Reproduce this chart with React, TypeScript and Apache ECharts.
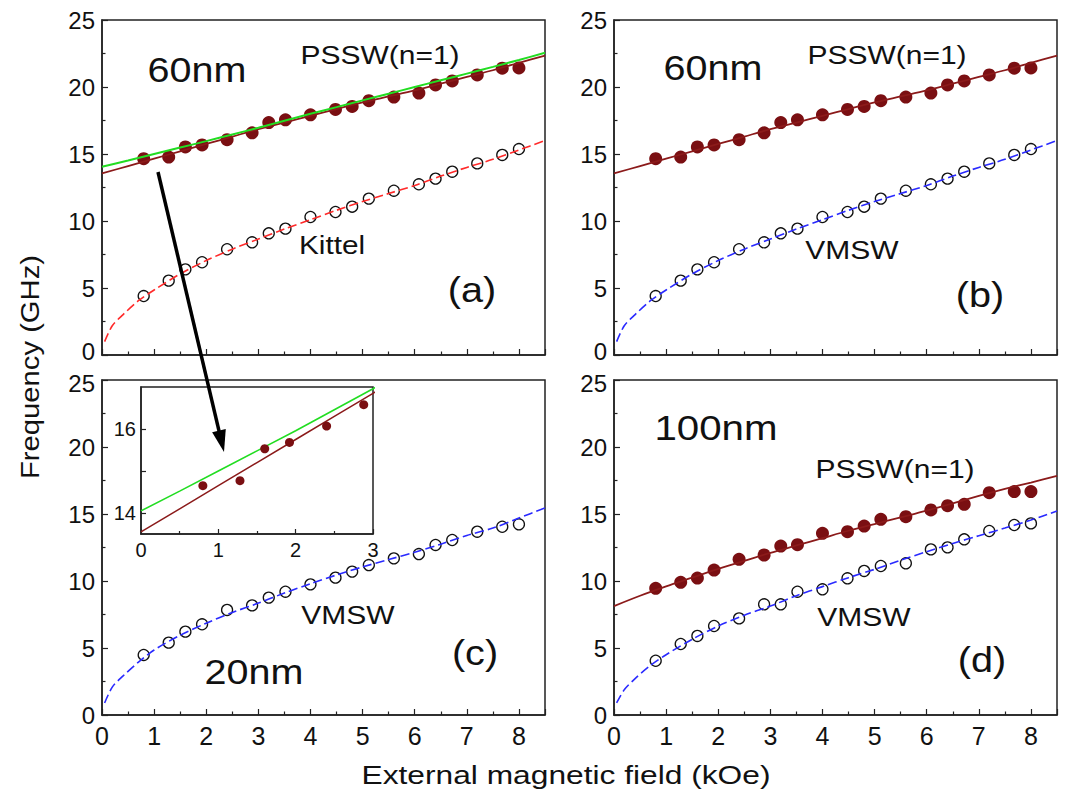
import React, { useEffect, useRef } from "react";
import * as echarts from "echarts";

// ---------- data ----------
const fieldX = [0.8, 1.28, 1.6, 1.92, 2.4, 2.88, 3.2, 3.52, 4.0, 4.48, 4.8, 5.12, 5.6, 6.08, 6.4, 6.72, 7.2, 7.68, 8.0];

const pssw60 = [14.65, 14.77, 15.53, 15.68, 16.07, 16.58, 17.35, 17.55, 17.92, 18.33, 18.55, 18.98, 19.25, 19.55, 20.15, 20.45, 20.9, 21.4, 21.42];
const kittel60 = [4.4, 5.55, 6.39, 6.92, 7.89, 8.41, 9.08, 9.43, 10.3, 10.67, 11.07, 11.67, 12.26, 12.74, 13.16, 13.68, 14.3, 14.93, 15.37];
const vmsw20 = [4.48, 5.4, 6.22, 6.77, 7.84, 8.18, 8.76, 9.2, 9.75, 10.25, 10.7, 11.19, 11.69, 12.01, 12.69, 13.06, 13.68, 14.05, 14.23];
const pssw100 = [9.45, 9.9, 10.22, 10.82, 11.62, 11.94, 12.61, 12.71, 13.56, 13.68, 14.1, 14.6, 14.8, 15.3, 15.62, 15.72, 16.59, 16.67, 16.67];
const vmsw100 = [4.05, 5.3, 5.9, 6.64, 7.21, 8.26, 8.26, 9.2, 9.38, 10.2, 10.75, 11.12, 11.32, 12.36, 12.51, 13.11, 13.73, 14.18, 14.3];

// fitted curves
const linX = [0, 0.5, 1, 1.5, 2, 2.5, 3, 3.5, 4, 4.5, 5, 5.5, 6, 6.5, 7, 7.5, 8, 8.5];
const brownFit60 = [13.55, 14.1, 14.65, 15.2, 15.75, 16.3, 16.85, 17.35, 17.85, 18.35, 18.85, 19.3, 19.75, 20.25, 20.75, 21.25, 21.8, 22.35];
const greenFit60 = [14.05, 14.52, 15.0, 15.48, 15.96, 16.46, 16.96, 17.48, 18.0, 18.5, 19.0, 19.5, 20.0, 20.5, 21.0, 21.5, 22.02, 22.55];
const brownFit100 = [8.13, 8.9, 9.6, 10.25, 10.9, 11.5, 12.1, 12.65, 13.2, 13.75, 14.25, 14.75, 15.25, 15.8, 16.35, 16.87, 17.35, 17.84];

const curveX = [0.05, 0.2, 0.4, 0.7, 1, 1.5, 2, 2.5, 3, 3.5, 4, 4.5, 5, 5.5, 6, 6.5, 7, 7.5, 8, 8.5];
const kittelFit60 = [1.0, 2.2, 3.0, 4.05, 4.85, 6.05, 7.05, 7.9, 8.65, 9.4, 10.1, 10.8, 11.45, 12.05, 12.65, 13.35, 14.0, 14.6, 15.3, 16.0];
const vmswFit20 = [0.9, 2.1, 2.9, 3.95, 4.85, 5.95, 6.85, 7.65, 8.35, 9.1, 9.8, 10.45, 11.05, 11.6, 12.15, 12.75, 13.4, 13.95, 14.7, 15.45];
const vmswFit100 = [0.9, 1.9, 2.7, 3.7, 4.5, 5.65, 6.64, 7.45, 8.13, 8.9, 9.58, 10.25, 10.87, 11.55, 12.19, 12.8, 13.38, 13.95, 14.55, 15.22];

const xTicks = [0, 1, 2, 3, 4, 5, 6, 7, 8];
const insetYLabels = [14, 16];
const insetYTicks = [14, 15, 16];

const FONT = "'Liberation Sans', Arial, sans-serif";
const BROWN = "#7a0f12";
const BROWN_LINE = "#8b1a1a";
const GREEN = "#22dd22";
const RED = "#ff2a2a";
const BLUE = "#2a2aff";
const AXIS = "#222";

const zip = (xs: number[], ys: number[]) => xs.map((x, i) => [x, ys[i]]);

function mainX(showLabels: boolean, grid: number) {
  return {
    type: "value",
    gridIndex: grid,
    min: 0,
    max: 8.5,
    interval: 1,
    axisLine: { show: true, onZero: false, lineStyle: { color: AXIS, width: 1.5 } },
    axisTick: { show: true, inside: true, length: 6, lineStyle: { color: AXIS, width: 1.2 } },
    minorTick: { show: true, splitNumber: 2, length: 3.5, lineStyle: { color: AXIS, width: 1.2 } },
    splitLine: { show: false },
    axisLabel: {
      show: showLabels,
      fontSize: 25,
      color: "#111",
      fontFamily: FONT,
      margin: 8,
      formatter: (v: number) => (xTicks.indexOf(v) >= 0 ? String(v) : ""),
    },
  };
}

function mainY(grid: number, top: boolean) {
  return {
    type: "value",
    gridIndex: grid,
    min: 0,
    max: 25,
    interval: 5,
    axisLine: { show: true, onZero: false, lineStyle: { color: AXIS, width: 1.5 } },
    axisTick: { show: true, inside: true, length: 6, lineStyle: { color: AXIS, width: 1.2 } },
    minorTick: { show: true, splitNumber: 2, length: 3.5, lineStyle: { color: AXIS, width: 1.2 } },
    splitLine: { show: false },
    axisLabel: {
      show: true,
      fontSize: 24,
      color: "#111",
      fontFamily: FONT,
      margin: 7,
      showMinLabel: true,
      showMaxLabel: true,
      formatter: (v: number) => {
        if (top && v === 0) return "{lo|0}";
        if (!top && v === 25) return "{hi|25}";
        return "{n|" + v + "}";
      },
      rich: {
        n: { fontSize: 24, fontFamily: FONT, color: "#111" },
        lo: { fontSize: 24, fontFamily: FONT, color: "#111", padding: [0, 0, 8, 0] },
        hi: { fontSize: 24, fontFamily: FONT, color: "#111", padding: [6, 0, 0, 0] },
      },
    },
  };
}

function filled(grid: number, ys: number[], size = 13) {
  return {
    type: "scatter",
    xAxisIndex: grid,
    yAxisIndex: grid,
    data: zip(fieldX, ys),
    symbol: "circle",
    symbolSize: size,
    itemStyle: { color: BROWN, opacity: 1 },
    z: 2,
    clip: true,
  };
}

function open(grid: number, ys: number[]) {
  return {
    type: "scatter",
    xAxisIndex: grid,
    yAxisIndex: grid,
    data: zip(fieldX, ys),
    symbol: "circle",
    symbolSize: 11,
    itemStyle: { color: "rgba(0,0,0,0)", borderColor: "#111", borderWidth: 1.3, opacity: 1 },
    z: 2,
    clip: true,
  };
}

function line(grid: number, xs: number[], ys: number[], color: string, width: number, dashed: boolean) {
  return {
    type: "line",
    xAxisIndex: grid,
    yAxisIndex: grid,
    data: zip(xs, ys),
    showSymbol: false,
    symbol: "none",
    smooth: 0.3,
    clip: true,
    lineStyle: { color, width, type: dashed ? [9, 4] : "solid" },
    z: 3,
  };
}

function label(text: string, x: number, y: number, size: number, scaleX: number) {
  return {
    type: "text",
    x,
    y,
    scaleX,
    z: 50,
    style: {
      text,
      fill: "#111",
      font: `${size}px ${FONT}`,
      align: "center",
      verticalAlign: "middle",
    },
  };
}

export default function App() {
  const ref = useRef<HTMLDivElement>(null);

  useEffect(() => {
    if (!ref.current) return;
    const chart = echarts.init(ref.current, undefined, { renderer: "svg" });

    // arrow geometry
    const ax0 = 158, ay0 = 172, ax1 = 224, ay1 = 452;
    const len = Math.hypot(ax1 - ax0, ay1 - ay0);
    const ux = (ax1 - ax0) / len, uy = (ay1 - ay0) / len;
    const headLen = 22, headHalf = 7;
    const bx = ax1 - ux * headLen, by = ay1 - uy * headLen;
    const nx = -uy, ny = ux;

    const gridBase = { show: true, borderColor: AXIS, borderWidth: 1.5, containLabel: false };

    chart.setOption({
      animation: false,
      backgroundColor: "#fff",
      textStyle: { fontFamily: FONT },
      grid: [
        { ...gridBase, left: 102, top: 20, width: 443, height: 335 },
        { ...gridBase, left: 614, top: 20, width: 443, height: 335 },
        { ...gridBase, left: 102, top: 380, width: 443, height: 335 },
        { ...gridBase, left: 614, top: 380, width: 443, height: 335 },
        { ...gridBase, left: 141, top: 387, width: 232, height: 147, backgroundColor: "#fff", z: 10 },
      ],
      xAxis: [
        mainX(false, 0),
        mainX(false, 1),
        mainX(true, 2),
        mainX(true, 3),
        {
          type: "value",
          gridIndex: 4,
          min: 0,
          max: 3,
          interval: 1,
          z: 10,
          axisLine: { show: true, onZero: false, lineStyle: { color: AXIS, width: 1.5 } },
          axisTick: { show: true, inside: true, length: 5, lineStyle: { color: AXIS, width: 1.2 } },
          minorTick: { show: true, splitNumber: 2, length: 3, lineStyle: { color: AXIS, width: 1.2 } },
          splitLine: { show: false },
          axisLabel: { show: true, fontSize: 20, color: "#111", fontFamily: FONT, margin: 6 },
        },
      ],
      yAxis: [
        mainY(0, true),
        mainY(1, true),
        mainY(2, false),
        mainY(3, false),
        {
          type: "value",
          gridIndex: 4,
          min: 13.5,
          max: 17,
          z: 10,
          axisLine: { show: true, onZero: false, lineStyle: { color: AXIS, width: 1.5 } },
          axisTick: { show: true, inside: true, length: 5, customValues: insetYTicks, lineStyle: { color: AXIS, width: 1.2 } },
          splitLine: { show: false },
          axisLabel: { show: true, fontSize: 20, color: "#111", fontFamily: FONT, margin: 5, customValues: insetYLabels },
        },
      ],
      series: [
        // (a)
        filled(0, pssw60),
        open(0, kittel60),
        line(0, curveX, kittelFit60, RED, 1.6, true),
        line(0, linX, brownFit60, BROWN_LINE, 1.8, false),
        line(0, linX, greenFit60, GREEN, 2, false),
        // (b)
        filled(1, pssw60),
        open(1, kittel60),
        line(1, curveX, kittelFit60, BLUE, 1.6, true),
        line(1, linX, brownFit60, BROWN_LINE, 1.8, false),
        // (c)
        open(2, vmsw20),
        line(2, curveX, vmswFit20, BLUE, 1.6, true),
        // (d)
        filled(3, pssw100),
        open(3, vmsw100),
        line(3, curveX, vmswFit100, BLUE, 1.6, true),
        line(3, linX, brownFit100, BROWN_LINE, 1.8, false),
        // inset
        { ...filled(4, pssw60, 9), z: 12 },
        { ...line(4, linX, brownFit60, BROWN_LINE, 1.5, false), smooth: false, z: 12 },
        { ...line(4, linX, greenFit60, GREEN, 1.6, false), smooth: false, z: 12 },
      ],
      graphic: [
        // panel (a)
        label("60nm", 197, 70, 35, 1.13),
        label("PSSW(n=1)", 380, 55, 25, 1.2),
        label("Kittel", 332, 245, 25, 1.19),
        label("(a)", 472, 290, 36, 1.1),
        // panel (b)
        label("60nm", 713, 68, 35, 1.13),
        label("PSSW(n=1)", 887, 55, 25, 1.2),
        label("VMSW", 852, 250, 25, 1.2),
        label("(b)", 980, 295, 36, 1.1),
        // panel (c)
        label("VMSW", 348, 615, 25, 1.2),
        label("(c)", 475, 653, 36, 1.1),
        label("20nm", 254, 672, 35, 1.13),
        // panel (d)
        label("100nm", 716, 428, 35, 1.15),
        label("PSSW(n=1)", 895, 469, 25, 1.2),
        label("VMSW", 864, 617, 25, 1.2),
        label("(d)", 982, 660, 36, 1.1),
        // axis titles
        label("External magnetic field (kOe)", 566, 775, 26, 1.22),
        { ...label("Frequency (GHz)", 30, 367, 25, 1.17), rotation: Math.PI / 2 },
        // arrow
        {
          type: "line",
          z: 60,
          shape: { x1: ax0, y1: ay0, x2: bx + ux * 2, y2: by + uy * 2 },
          style: { stroke: "#000", lineWidth: 3.5 },
        },
        {
          type: "polygon",
          z: 60,
          shape: {
            points: [
              [ax1, ay1],
              [bx + nx * headHalf, by + ny * headHalf],
              [bx - nx * headHalf, by - ny * headHalf],
            ],
          },
          style: { fill: "#000" },
        },
      ],
    });

    return () => chart.dispose();
  }, []);

  return (
    <div
      ref={ref}
      style={{ position: "absolute", left: 0, top: 0, width: 1068, height: 794, background: "#fff" }}
    />
  );
}
